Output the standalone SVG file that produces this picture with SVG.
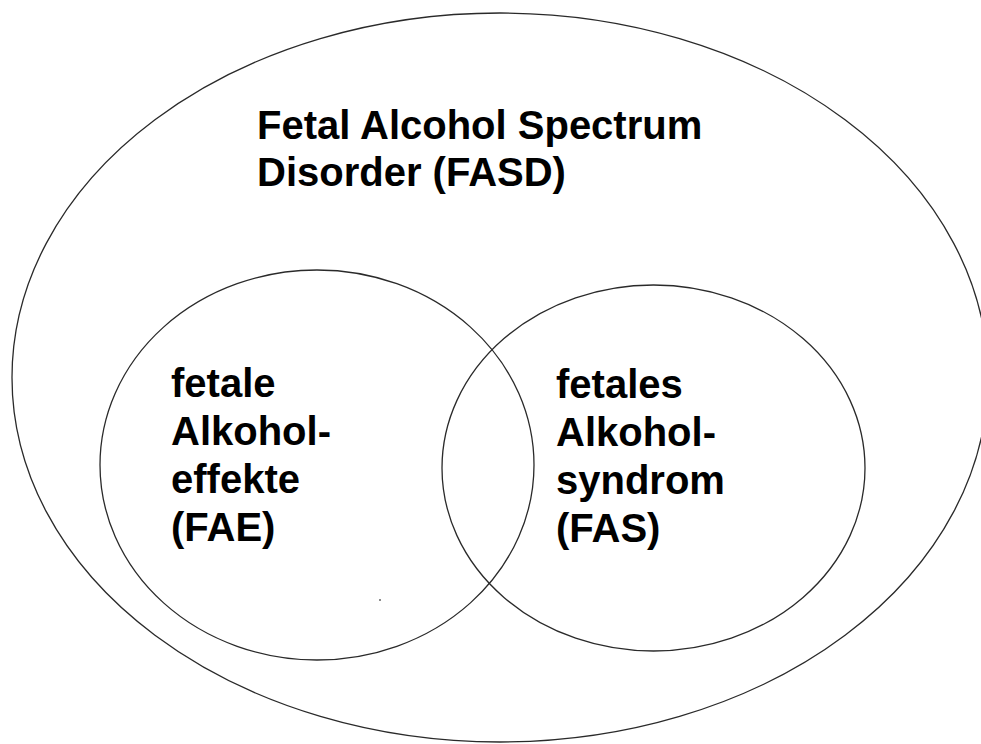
<svg xmlns="http://www.w3.org/2000/svg" width="981" height="744" viewBox="0 0 981 744">
<style>
.c{fill:none;stroke:#2a2a2a;stroke-width:1.3}
.t{font-family:"Liberation Sans",Arial,sans-serif;font-weight:bold;font-size:40px;fill:#000}
</style>
<rect width="981" height="744" fill="#fff"/>
<g id="fasd">
<ellipse class="c" cx="500" cy="377.5" rx="488" ry="364.5"/>
<text class="t" x="257" y="139">Fetal Alcohol Spectrum</text>
<text class="t" x="257" y="186">Disorder (FASD)</text>
</g>
<g id="fae">
<ellipse class="c" cx="317" cy="465" rx="217" ry="195"/>
<text class="t" x="171" y="397">fetale</text>
<text class="t" x="171" y="445">Alkohol-</text>
<text class="t" x="171" y="493">effekte</text>
<text class="t" x="171" y="541">(FAE)</text>
</g>
<g id="fas">
<ellipse class="c" cx="653.5" cy="468" rx="211.5" ry="183"/>
<text class="t" x="556" y="398">fetales</text>
<text class="t" x="556" y="446">Alkohol-</text>
<text class="t" x="556" y="494">syndrom</text>
<text class="t" x="556" y="542">(FAS)</text>
</g>
<g id="connectors"></g>
<circle cx="380" cy="600" r="1" fill="#666"/>
</svg>
